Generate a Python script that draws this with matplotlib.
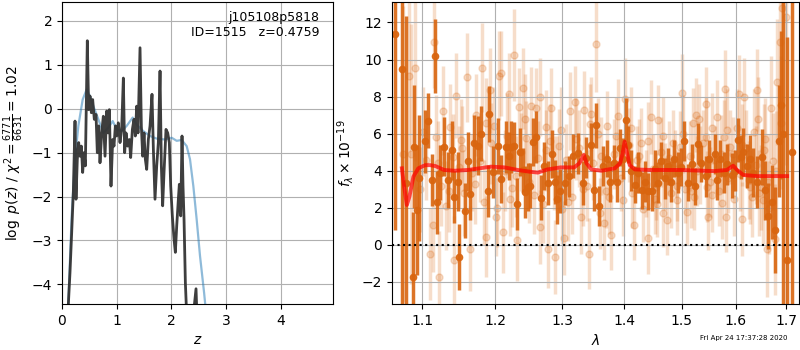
import numpy as np
import matplotlib
matplotlib.use('Agg')
import matplotlib.pyplot as plt
from matplotlib.ticker import NullLocator, FixedFormatter

# redshift PDF (left panel)
z_pz = [0.11, 0.146, 0.177, 0.207, 0.238, 0.256, 0.280, 0.305, 0.329, 0.354, 0.378, 0.402,
        0.427, 0.463, 0.488, 0.512, 0.537, 0.561, 0.591, 0.622, 0.646, 0.671, 0.695, 0.726,
        0.756, 0.787, 0.817, 0.841, 0.866, 0.896, 0.927, 0.951, 0.976, 1.000, 1.030, 1.061,
        1.091, 1.122, 1.146, 1.171, 1.201, 1.232, 1.256, 1.287, 1.317, 1.341, 1.366, 1.390,
        1.427, 1.451, 1.476, 1.500, 1.524, 1.549, 1.579, 1.610, 1.646, 1.671, 1.701, 1.732,
        1.762, 1.793, 1.817, 1.841, 1.866, 1.902, 1.933, 1.963, 1.988, 2.018, 2.049, 2.073,
        2.098, 2.128, 2.146, 2.171, 2.195, 2.213, 2.232, 2.256, 2.280, 2.370, 2.451, 2.476, 2.600]
logp = [-4.6, -3.73, -2.82, -1.91, -0.28, -2.06, -1.15, -0.77, -1.08, -0.85, -1.45, -1.00,
        -1.30, 1.55, -0.02, 0.29, -0.09, 0.21, -0.24, -0.13, -1.00, -0.39, -1.23, -0.55,
        -0.17, -1.08, -0.05, -0.55, -0.02, -1.76, -0.70, -0.85, -0.39, -0.62, -0.32, -0.77,
        -0.47, 0.70, -1.00, -0.55, -0.85, -0.70, -1.11, -0.47, -0.24, -0.62, 0.06, -0.55,
        1.39, -0.39, -1.08, -0.55, -1.15, -1.38, -0.70, -0.39, 0.33, -0.92, -2.06, -1.30,
        -0.77, 0.86, -1.30, -2.21, -1.45, -0.47, -0.55, -0.77, -1.76, -2.44, -2.97, -3.27,
        -2.67, -2.06, -1.72, -2.44, -0.62, -1.76, -2.52, -3.95, -4.7, -5.1, -4.1, -5.0, -6.0]

z_smooth = [0.11, 0.177, 0.238, 0.299, 0.378, 0.451, 0.512, 0.573, 0.665, 0.756, 0.848,
            0.927, 1.000, 1.091, 1.183, 1.293, 1.366, 1.488, 1.610, 1.732, 1.884, 2.006,
            2.098, 2.189, 2.280, 2.341, 2.402, 2.463, 2.524, 2.598, 2.646]
logp_smooth = [-4.6, -2.44, -1.15, -0.39, 0.21, 0.44, 0.29, 0.06, -0.24, -0.55, -0.43,
               -0.28, -0.47, -0.51, -0.39, -0.20, -0.36, -0.51, -0.62, -0.68, -0.70, -0.66,
               -0.73, -0.71, -0.85, -1.15, -1.76, -2.52, -3.35, -4.18, -4.79]

# binned spectrum (dark points)
wave_d = [1.0650, 1.0736, 1.0791, 1.0877, 1.0894, 1.0936, 1.0962, 1.1038, 1.1083, 1.1125,
          1.1167, 1.1200, 1.1236, 1.1292, 1.1347, 1.1394, 1.1431, 1.1478, 1.1500, 1.1579,
          1.1617, 1.1653, 1.1700, 1.1764, 1.1801, 1.1894, 1.1917, 1.1964, 1.2045, 1.2080,
          1.2159, 1.2199, 1.2233, 1.2282, 1.2326, 1.2366, 1.2415, 1.2445, 1.2485, 1.2519,
          1.2564, 1.2604, 1.2683, 1.2727, 1.2778, 1.2841, 1.2890, 1.2930, 1.2975, 1.3054,
          1.3108, 1.3174, 1.3246, 1.3328, 1.3382, 1.3464, 1.3502, 1.3546, 1.3590, 1.3656,
          1.3710, 1.3764, 1.3836, 1.3890, 1.3928, 1.3984, 1.4039, 1.4069, 1.4125, 1.4182,
          1.4240, 1.4297, 1.4353, 1.4412, 1.4468, 1.4525, 1.4583, 1.4640, 1.4696, 1.4755,
          1.4811, 1.4868, 1.4926, 1.4983, 1.5042, 1.5115, 1.5176, 1.5236, 1.5296, 1.5358,
          1.5436, 1.5496, 1.5600, 1.5649, 1.5709, 1.5769, 1.5842, 1.5922, 1.5982, 1.6045,
          1.6093, 1.6144, 1.6211, 1.6276, 1.6341, 1.6420, 1.6507, 1.6572, 1.6637, 1.6704,
          1.6769, 1.6854, 1.6882, 1.6939, 1.7013, 1.7110]
flux_d = [11.4, 9.5, 3.35, -1.75, 5.3, 1.9, 3.6, 5.6, 6.7, 3.5,
          10.2, 2.3, 3.9, 5.3, 3.5, 5.1, 2.6, 3.4, -0.65, 1.85,
          4.5, 2.75, 5.5, 5.35, 6.0, 2.9, 7.05, 3.95, 5.35, 3.55,
          5.3, 4.8, 5.3, 5.35, 2.2, 5.0, 4.05, 2.85, 3.1, 3.2,
          5.55, 5.8, 2.55, 4.25, 3.35, 4.9, 3.4, 2.45, 2.9, 3.35,
          3.7, 4.8, 4.95, 3.35, 4.7, 5.4, 2.95, 6.45, 2.1, 4.25,
          4.65, 3.4, 4.4, 3.4, 5.25, 4.65, 6.75, 5.4, 4.0, 3.25,
          3.9, 2.95, 3.4, 2.9, 2.9, 4.1, 3.35, 4.55, 3.6, 4.25,
          3.4, 4.65, 3.9, 4.2, 5.6, 3.35, 4.35, 3.15, 5.45, 4.4,
          3.7, 4.65, 4.9, 3.5, 4.65, 3.9, 4.35, 3.75, 4.0, 5.65,
          4.75, 5.0, 4.25, 4.65, 3.9, 3.4, 4.75, 2.95, 1.55, 2.3,
          0.8, 5.6, 7.55, 6.0, -0.8, 5.0]
err_d = [10.6, 13.0, 9.0, 3.5, 3.3, 3.5, 3.4, 1.7, 1.5, 1.4,
         2.0, 1.7, 1.5, 1.6, 1.5, 1.6, 1.4, 1.6, 1.8, 1.5,
         1.6, 1.4, 1.5, 1.6, 1.5, 1.4, 1.5, 1.4, 1.5, 1.3,
         1.4, 1.3, 1.4, 1.3, 1.4, 1.3, 1.2, 1.4, 1.3, 1.2,
         1.3, 1.4, 1.2, 1.3, 1.2, 1.3, 1.2, 1.3, 1.2, 1.2,
         1.1, 1.2, 1.1, 1.2, 1.1, 1.2, 1.1, 1.2, 1.1, 1.1,
         1.0, 1.1, 1.0, 1.1, 1.0, 1.1, 1.2, 1.0, 1.1, 1.0,
         1.1, 1.0, 1.1, 1.0, 1.1, 1.0, 1.1, 1.0, 1.1, 1.0,
         1.1, 1.0, 1.1, 1.0, 1.1, 1.0, 1.1, 1.0, 1.1, 1.0,
         1.1, 1.0, 1.1, 1.1, 1.0, 1.1, 1.1, 1.2, 1.1, 1.2,
         1.2, 1.3, 1.2, 1.3, 1.3, 1.4, 1.5, 1.6, 1.8, 2.0,
         2.3, 3.0, 4.0, 20.0, 12.0, 30.0]

# unbinned spectrum (light points)
wave_l = [1.0756, 1.0833, 1.0851, 1.0906, 1.1097, 1.1144, 1.1153, 1.1228, 1.1278, 1.1375,
          1.1408, 1.1431, 1.1458, 1.1524, 1.1607, 1.1653, 1.1732, 1.1811, 1.1871, 1.1922,
          1.1940, 1.2010, 1.2059, 1.2085, 1.2110, 1.2199, 1.2248, 1.2282, 1.2322, 1.2356,
          1.2415, 1.2455, 1.2530, 1.2604, 1.2659, 1.2668, 1.2752, 1.2786, 1.2837, 1.2890,
          1.2950, 1.3000, 1.3026, 1.3120, 1.3207, 1.3300, 1.3354, 1.3426, 1.3452, 1.3534,
          1.3600, 1.3666, 1.3726, 1.3792, 1.3902, 1.4022, 1.4172, 1.4326, 1.4412, 1.4456,
          1.4537, 1.4583, 1.4669, 1.4743, 1.4840, 1.4914, 1.5013, 1.5091, 1.5195, 1.5255,
          1.5315, 1.5436, 1.5478, 1.5467, 1.5558, 1.5649, 1.5740, 1.5800, 1.5818, 1.5891,
          1.6065, 1.6112, 1.6158, 1.6276, 1.6420, 1.6440, 1.6539, 1.6606, 1.6690, 1.6769,
          1.6815, 1.6868, 1.6901, 1.7000,
          1.097, 1.105, 1.118, 1.125, 1.132, 1.149, 1.156, 1.168, 1.178, 1.184,
          1.198, 1.214, 1.221, 1.238, 1.250, 1.263, 1.271, 1.281, 1.292, 1.306,
          1.316, 1.327, 1.340, 1.349, 1.357, 1.375, 1.383, 1.395, 1.409, 1.414,
          1.422, 1.429, 1.437, 1.449, 1.456, 1.463, 1.470, 1.480, 1.488, 1.497,
          1.506, 1.514, 1.522, 1.528, 1.538, 1.551, 1.560, 1.568, 1.577, 1.586,
          1.594, 1.602, 1.609, 1.620, 1.632, 1.639, 1.648, 1.657, 1.665, 1.673,
          1.101, 1.121, 1.136, 1.153, 1.171, 1.187, 1.203, 1.217, 1.230, 1.244,
          1.257, 1.275, 1.287, 1.298, 1.310, 1.322, 1.333, 1.344, 1.362, 1.370,
          1.387, 1.399, 1.411, 1.426, 1.440, 1.452, 1.466, 1.477, 1.491, 1.502,
          1.517, 1.533, 1.545, 1.556, 1.572, 1.583, 1.597, 1.612, 1.625, 1.636,
          1.645, 1.654, 1.662, 1.679, 1.688]
flux_l = [4.89, 9.12, 4.9, 9.53, -0.5, 1.06, 10.97, -1.75, 7.23, 6.38,
          4.76, -0.83, 8.04, 5.66, 9.05, -0.2, 7.0, 9.57, 0.45, 8.33,
          5.48, 1.51, 9.12, 9.26, 0.67, 8.15, 3.05, 10.25, 0.25, 7.46,
          8.45, 5.75, 7.5, 7.37, 0.97, 7.97, 6.38, -0.22, 7.37, -0.66,
          5.34, 1.96, 0.35, 7.24, 7.73, 1.51, 7.28, -0.47, 7.06, 10.83,
          1.7, 1.19, 6.42, 0.52, 6.97, 7.86, 1.06, 1.96, 0.35, 6.92,
          3.14, 6.74, 1.7, 1.34, 5.48, 2.42, 8.18, 1.78, 6.56, 7.01,
          6.8, 7.6, 1.51, 3.14, 6.29, 6.92, 2.24, 8.4, 1.51, 5.3,
          8.15, 1.39, 8.0, 3.14, 8.36, 6.78, 2.42, -0.2, 7.41, 0.3,
          8.81, 10.97, 12.8, 12.3,
          3.0, 4.6, 5.8, 3.2, 2.1, 4.2, 2.8, 3.9, 4.5, 2.3,
          6.4, 4.0, 2.5, 5.0, 3.4, 4.7, 2.2, 5.6, 3.8, 4.6,
          2.6, 5.2, 3.2, 4.4, 6.0, 2.6, 4.9, 3.6, 5.4, 2.8,
          4.6, 5.5, 3.3, 4.1, 2.2, 5.0, 3.7, 2.8, 4.4, 5.3,
          3.0, 4.8, 2.6, 4.0, 5.5, 3.4, 4.6, 2.9, 5.8, 3.6,
          4.9, 6.3, 3.8, 5.2, 2.6, 4.3, 3.1, 5.7, 2.0, 4.5,
          6.1, 4.4, 2.9, 5.2, 3.3, 6.6, 2.0, 5.9, 3.7, 6.8,
          2.7, 5.1, 3.9, 6.2, 2.3, 5.7, 3.0, 6.5, 4.8, 2.9,
          5.9, 2.4, 6.3, 4.8, 5.6, 2.5, 5.9, 4.7, 3.2, 6.0,
          2.9, 4.3, 5.8, 2.7, 4.9, 6.2, 2.5, 5.4, 3.5, 6.1,
          2.8, 5.1, 3.4, 4.0, 6.6]
err_l = [8.0, 6.0, 7.0, 5.0, 2.5, 2.5, 2.5, 2.5, 2.4, 2.3,
         2.3, 2.4, 2.3, 2.2, 2.4, 2.3, 2.2, 2.4, 2.2, 2.3,
         2.2, 2.1, 2.4, 2.3, 2.2, 2.2, 2.1, 2.5, 2.2, 2.1,
         2.2, 2.0, 2.1, 2.2, 2.0, 2.1, 2.0, 2.1, 2.2, 2.0,
         2.0, 1.9, 2.0, 2.1, 1.9, 2.0, 2.1, 1.9, 2.0, 2.6,
         1.9, 2.0, 1.9, 1.9, 2.0, 2.2, 1.9, 1.8, 1.9, 2.0,
         1.8, 1.9, 1.8, 1.9, 1.8, 1.9, 2.1, 1.8, 1.9, 2.0,
         1.9, 2.0, 1.8, 1.9, 1.9, 2.0, 1.9, 2.1, 1.9, 2.0,
         2.1, 2.0, 2.1, 2.0, 2.2, 2.3, 2.4, 2.6, 2.8, 3.0,
         3.4, 4.0, 6.0, 8.0,
         2.3, 2.2, 2.3, 2.2, 2.4, 2.2, 2.3, 2.1, 2.2, 2.3,
         2.1, 2.2, 2.0, 2.1, 2.2, 2.0, 2.1, 2.0, 2.1, 1.9,
         2.0, 2.1, 1.9, 2.0, 1.9, 2.0, 1.9, 1.8, 2.0, 1.9,
         1.8, 1.9, 1.8, 1.9, 1.8, 1.9, 1.8, 1.9, 1.8, 1.9,
         1.8, 1.9, 1.8, 1.9, 1.8, 1.9, 1.8, 1.9, 2.0, 1.9,
         2.0, 2.1, 2.0, 2.1, 2.2, 2.1, 2.3, 2.2, 2.5, 2.6,
         2.4, 2.3, 2.2, 2.3, 2.2, 2.4, 2.1, 2.3, 2.2, 2.4,
         2.1, 2.2, 2.0, 2.3, 2.1, 2.2, 2.0, 2.2, 2.1, 2.0,
         2.1, 1.9, 2.2, 2.0, 2.1, 1.9, 2.1, 2.0, 1.9, 2.1,
         2.0, 2.1, 2.2, 2.0, 2.1, 2.2, 2.0, 2.2, 2.1, 2.3,
         2.3, 2.5, 2.6, 3.2, 3.6]

# best-fit model
wave_m = [1.0736, 1.0765, 1.0800, 1.0833, 1.0885, 1.0949, 1.1038, 1.1107, 1.1176, 1.1292,
          1.1431, 1.1617, 1.1778, 1.1940, 1.2134, 1.2332, 1.2504, 1.2629, 1.2777, 1.2975,
          1.3190, 1.3272, 1.3344, 1.3387, 1.3464, 1.3628, 1.3846, 1.3934, 1.3977, 1.4010,
          1.4051, 1.4096, 1.4182, 1.4468, 1.4983, 1.5588, 1.5831, 1.5951, 1.6026, 1.6144,
          1.6408, 1.7013]
flux_m = [4.13, 3.14, 2.15, 2.6, 3.68, 4.13, 4.3, 4.3, 4.25, 4.04,
          4.0, 4.04, 4.13, 4.22, 4.18, 4.04, 3.95, 3.9, 4.07, 4.18,
          4.18, 4.4, 4.85, 4.4, 4.07, 4.0, 4.13, 4.4, 4.94, 5.57,
          4.94, 4.3, 4.07, 4.04, 4.04, 3.98, 4.04, 4.27, 4.04, 3.77,
          3.71, 3.71]

lam_ticks = [1.1, 1.2, 1.3, 1.4, 1.5, 1.6, 1.7]
orange = '#d9650f'

fig = plt.figure(figsize=(8, 3.5), dpi=100)

# left: redshift probability
ax1 = fig.add_axes([0.0775, 0.131, 0.339, 0.863])
ax1.plot(z_smooth, logp_smooth, color='tab:blue', alpha=0.5, lw=1.6)
ax1.plot(z_pz, logp, color='0.2', alpha=0.95, lw=2)
ax1.set_xlim(0, 4.96)
ax1.set_ylim(-4.45, 2.43)
ax1.set_yticks([-4, -3, -2, -1, 0, 1, 2])
ax1.set_xticks([0, 1, 2, 3, 4])
ax1.grid()
ax1.set_xlabel(r'$z$')
ax1.set_ylabel(r'$\log\ p(z)$' + ' / ' + r'$\chi^2=\frac{6771}{6631}=1.02$')
ax1.text(0.95, 0.97, 'j105108p5818\nID=1515   z=0.4759', ha='right', va='top',
         transform=ax1.transAxes, fontsize=9)

# right: spectrum
ax2 = fig.add_axes([0.49, 0.131, 0.509, 0.863])
ax2.errorbar(wave_l, flux_l, yerr=err_l, fmt='o', color=orange, alpha=0.22,
             markersize=5, elinewidth=2.5, zorder=1)
ax2.errorbar(wave_d, flux_d, yerr=err_d, fmt='o', color=orange, alpha=0.9,
             markersize=4.5, elinewidth=2.5, zorder=2)
ax2.plot(wave_m, flux_m, color='r', alpha=0.7, lw=2.8, zorder=3)
ax2.axhline(0, color='k', linestyle=':', lw=1.5, zorder=4)
ax2.set_xscale('log')
ax2.set_xlim(1.061, 1.726)
ax2.set_ylim(-3.2, 13.1)
ax2.set_xticks(lam_ticks)
ax2.xaxis.set_major_formatter(FixedFormatter([str(t) for t in lam_ticks]))
ax2.xaxis.set_minor_locator(NullLocator())
ax2.set_yticks([-2, 0, 2, 4, 6, 8, 10, 12])
ax2.grid()
ax2.set_xlabel(r'$\lambda$')
ax2.set_ylabel(r'$f_\lambda\times 10^{-19}$')

fig.text(0.985, 0.025, 'Fri Apr 24 17:37:28 2020', ha='right', va='bottom', fontsize=5)

fig.savefig('out.png', dpi=100)
